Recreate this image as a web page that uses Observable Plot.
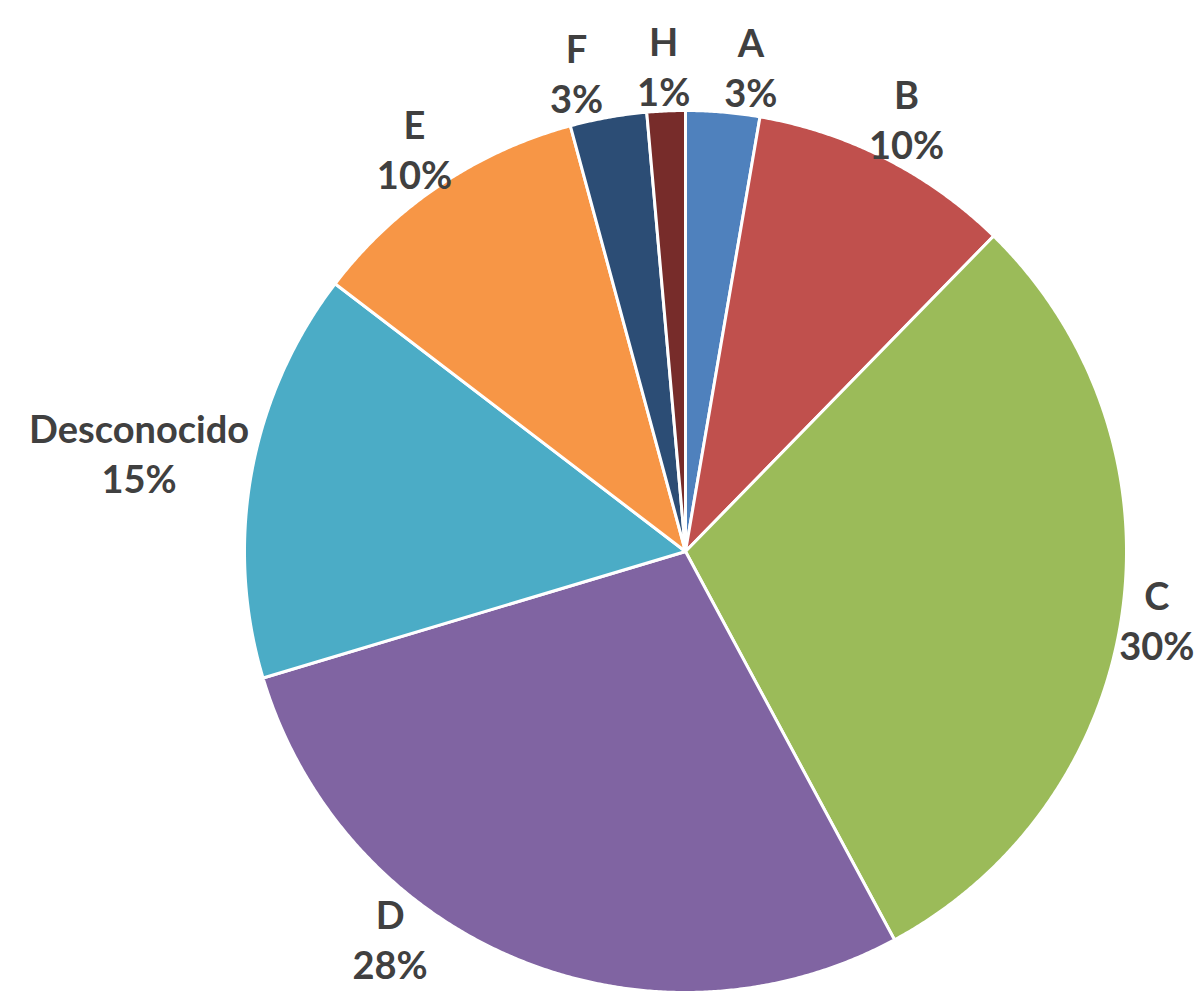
<!DOCTYPE html>
<html>
<head>
<meta charset="utf-8">
<script src="https://cdn.jsdelivr.net/npm/d3@7"></script>
<script src="https://cdn.jsdelivr.net/npm/@observablehq/plot@0.6"></script>
<style>
  html, body { margin: 0; padding: 0; background: #ffffff; }
  #chart { width: 1198px; height: 992px; }
</style>
</head>
<body>
<div id="chart"></div>
<script>
// ---- data ----
const categories = ["A", "B", "C", "D", "Desconocido", "E", "F", "H"];
const values = [2.7, 9.6, 29.8, 28.2, 15.0, 10.4, 2.8, 1.4];
const colors = ["#4F81BD", "#C0504D", "#9BBB59", "#8064A2", "#4BACC6", "#F79646", "#2C4D75", "#772C2A"];

// ---- layout ----
const W = 1198, H = 992;
const cx = 685, cy = 551, R = 441;
const fontSize = 38, lineHeight = 1.32;
const fontFamily = "Lato, 'Open Sans', sans-serif";

const data = categories.map((c, i) => ({cat: c, value: values[i]}));
const total = d3.sum(values);
const arcs = d3.pie().sort(null).value(d => d.value)(data);

// slice polygons (unit radius, y up)
const pts = [];
arcs.forEach(a => {
  const n = Math.max(4, Math.ceil((a.endAngle - a.startAngle) / 0.005));
  pts.push({cat: a.data.cat, x: 0, y: 0});
  for (let k = 0; k <= n; k++) {
    const t = a.startAngle + (a.endAngle - a.startAngle) * k / n;
    pts.push({cat: a.data.cat, x: Math.sin(t), y: Math.cos(t)});
  }
  pts.push({cat: a.data.cat, x: 0, y: 0});
});

// labels: outside end, pushed clear of the pie, kept inside the frame
const ctx = document.createElement("canvas").getContext("2d");
ctx.font = `bold ${fontSize}px Lato`;
const pad = 6, blockH = 80, minGap = 34;
const boxes = arcs.map(a => {
  const pct = Math.round(a.data.value / total * 100) + "%";
  const text = a.data.cat + "\n" + pct;
  const w = Math.max(ctx.measureText(a.data.cat).width, ctx.measureText(pct).width);
  const mid = (a.startAngle + a.endAngle) / 2;
  const place = th => {
    const sx = Math.sin(th), sy = -Math.cos(th);
    const d = R + pad + Math.hypot(sx * w / 2, sy * blockH / 2);
    return [cx + sx * d, cy + sy * d];
  };
  let th = mid, p = place(th);
  const dir = mid > Math.PI ? 1 : -1;
  let guard = 0;
  while ((p[1] + blockH / 2 > H - 12 || p[1] - blockH / 2 < 4) && guard++ < 200) {
    th += dir * 0.01;
    p = place(th);
  }
  return {cat: a.data.cat, text, w, px: p[0], py: p[1]};
});
// simple horizontal collision relaxation between labels that share a row
for (let it = 0; it < 50; it++) {
  for (let i = 0; i < boxes.length; i++) {
    for (let j = i + 1; j < boxes.length; j++) {
      const a = boxes[i], b = boxes[j];
      if (Math.abs(a.py - b.py) > blockH) continue;
      const [l, r] = a.px < b.px ? [a, b] : [b, a];
      const gap = (r.px - r.w / 2) - (l.px + l.w / 2);
      if (gap < minGap) {
        const s = (minGap - gap) / 2;
        l.px -= s; r.px += s;
      }
    }
  }
}
const labels = boxes.map(b => {
  const px = Math.min(W - b.w / 2 - 4, Math.max(b.w / 2 + 4, b.px));
  return {cat: b.cat, text: b.text, x: (px - cx) / R, y: (cy - b.py) / R};
});

const chart = Plot.plot({
  width: W,
  height: H,
  margin: 0,
  style: {fontFamily, background: "#ffffff"},
  x: {domain: [-cx / R, (W - cx) / R], axis: null},
  y: {domain: [-(H - cy) / R, cy / R], axis: null},
  color: {domain: categories, range: colors},
  marks: [
    Plot.line(pts, {
      x: "x", y: "y", z: "cat",
      fill: "cat",
      stroke: "#ffffff",
      strokeWidth: 3,
      strokeLinejoin: "round",
      curve: "linear"
    }),
    Plot.text(labels, {
      x: "x", y: "y", text: "text",
      fontSize, fontWeight: "bold",
      fill: "#404040",
      lineHeight,
      textAnchor: "middle"
    })
  ]
});
document.getElementById("chart").appendChild(chart);
</script>
</body>
</html>
